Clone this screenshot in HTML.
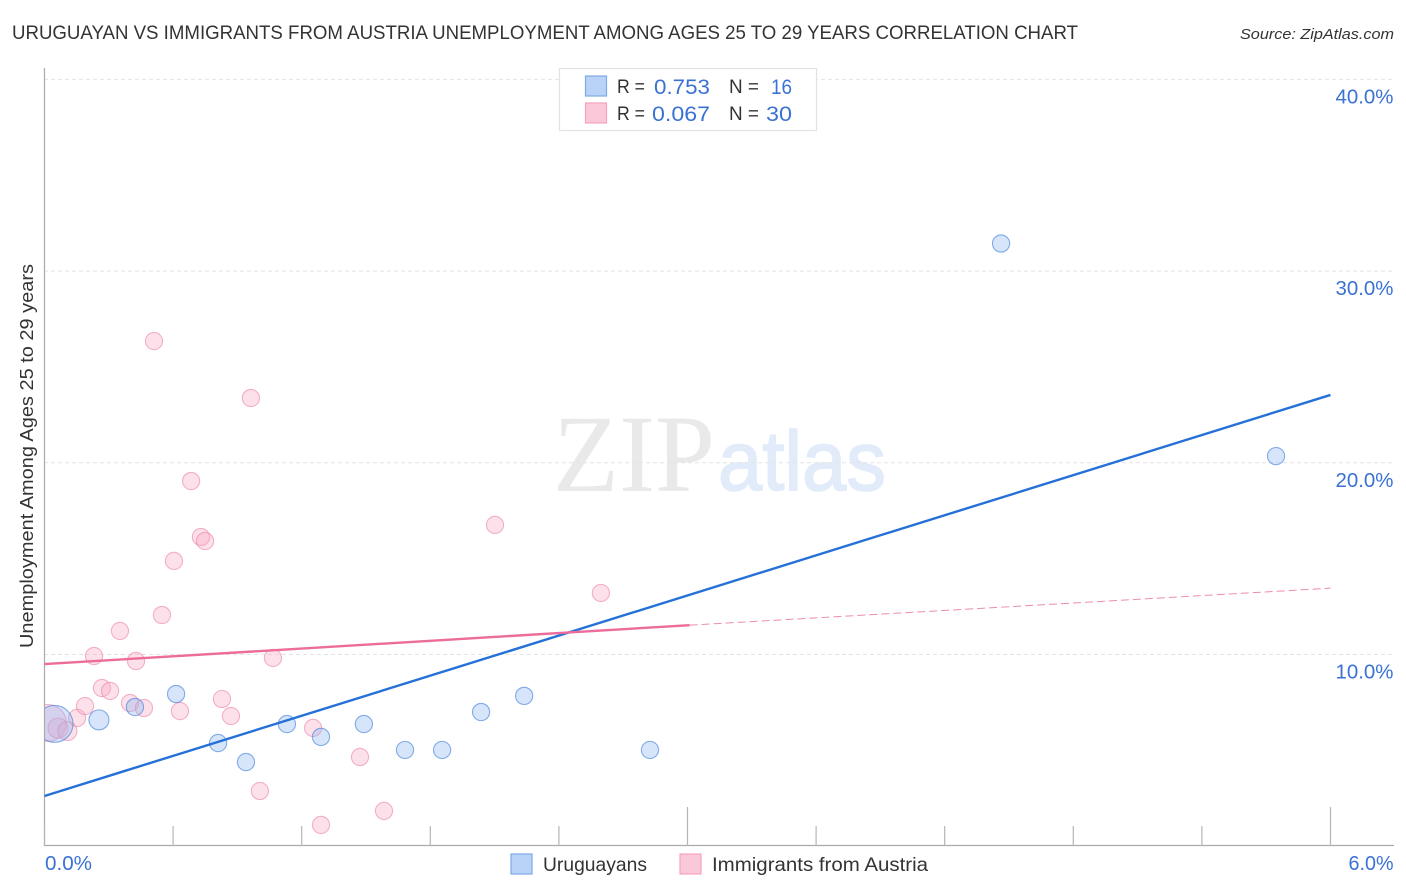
<!DOCTYPE html>
<html lang="en">
<head>
<meta charset="utf-8">
<title>Uruguayan vs Immigrants from Austria Unemployment Correlation Chart</title>
<style>
html,body{margin:0;padding:0;background:#fff;}
svg{display:block;font-family:"Liberation Sans",sans-serif;}
</style>
</head>
<body>
<svg id="chart" xmlns="http://www.w3.org/2000/svg" width="1406" height="892" viewBox="0 0 1406 892">
  <defs>
    <clipPath id="plot-clip"><rect x="45" y="60" width="1350" height="786"></rect></clipPath>
  </defs>
  <text x="12" y="39" font-size="19" fill="#333" textLength="1066" lengthAdjust="spacingAndGlyphs">URUGUAYAN VS IMMIGRANTS FROM AUSTRIA UNEMPLOYMENT AMONG AGES 25 TO 29 YEARS CORRELATION CHART</text>
  <text x="1394" y="39" font-size="15" font-style="italic" fill="#333" text-anchor="end" textLength="154" lengthAdjust="spacingAndGlyphs">Source: ZipAtlas.com</text>

  <g>
    <text x="553" y="491" font-family="'Liberation Serif',serif" font-size="110" fill="#e9e9e9" textLength="162" lengthAdjust="spacingAndGlyphs">ZIP</text>
    <text x="718" y="490" font-size="84" fill="#e2ebf9" stroke="#e2ebf9" stroke-width="1.6" textLength="168" lengthAdjust="spacingAndGlyphs">atlas</text>
  </g>

  <g id="grid"></g>
  <g id="axes"></g>
  <g id="pink-points" clip-path="url(#plot-clip)"></g>
  <g id="blue-points" clip-path="url(#plot-clip)"></g>
  <g id="trends"></g>
  <g id="labels"></g>

  <text transform="translate(33,648) rotate(-90)" font-size="18.5" fill="#333" textLength="384" lengthAdjust="spacingAndGlyphs">Unemployment Among Ages 25 to 29 years</text>

  <g>
    <rect x="559.5" y="68.5" width="257" height="62" fill="#fff" stroke="#e2e2e2" stroke-width="1.2"></rect>
    <rect x="585.5" y="76" width="21" height="20" fill="#b9d3f8" stroke="#7eaae6" stroke-width="1.2"></rect>
    <rect x="585.5" y="103" width="21" height="20" fill="#fbc8da" stroke="#f2a3bd" stroke-width="1.2"></rect>
    <text x="617" y="93" font-size="19" fill="#333" textLength="28" lengthAdjust="spacingAndGlyphs">R =</text>
    <text x="654" y="94" font-size="21" fill="#3a72d4" textLength="56" lengthAdjust="spacingAndGlyphs">0.753</text>
    <text x="729" y="93" font-size="19" fill="#333" textLength="30" lengthAdjust="spacingAndGlyphs">N =</text>
    <text x="771" y="94" font-size="21" fill="#3a72d4" textLength="21" lengthAdjust="spacingAndGlyphs">16</text>
    <text x="617" y="120" font-size="19" fill="#333" textLength="28" lengthAdjust="spacingAndGlyphs">R =</text>
    <text x="652" y="121" font-size="21" fill="#3a72d4" textLength="58" lengthAdjust="spacingAndGlyphs">0.067</text>
    <text x="729" y="120" font-size="19" fill="#333" textLength="30" lengthAdjust="spacingAndGlyphs">N =</text>
    <text x="766" y="121" font-size="21" fill="#3a72d4" textLength="26" lengthAdjust="spacingAndGlyphs">30</text>
  </g>

  <g>
    <rect x="511" y="854" width="21" height="20" fill="#b9d3f8" stroke="#7eaae6" stroke-width="1.2"></rect>
    <text x="543" y="871" font-size="19.5" fill="#333" textLength="104" lengthAdjust="spacingAndGlyphs">Uruguayans</text>
    <rect x="680" y="854" width="21" height="20" fill="#fbc8da" stroke="#f2a3bd" stroke-width="1.2"></rect>
    <text x="712" y="871" font-size="19.5" fill="#333" textLength="216" lengthAdjust="spacingAndGlyphs">Immigrants from Austria</text>
  </g>
</svg>
<script>
// Chart data
const yTickValues = [10, 20, 30, 40];
const yTickLabels = ['10.0%', '20.0%', '30.0%', '40.0%'];
const xTickValues = [0, 0.6, 1.2, 1.8, 2.4, 3.0, 3.6, 4.2, 4.8, 5.4, 6.0];
const xMajorTicks = [3.0, 6.0];
const xEndLabels = ['0.0%', '6.0%'];

const blueX = [0.047, 0.254, 0.422, 0.614, 0.81, 0.94, 1.131, 1.29, 1.49, 1.682, 1.855, 2.037, 2.238, 2.825, 4.463, 5.746];
const blueY = [6.38, 6.59, 7.26, 7.94, 5.38, 4.39, 6.37, 5.70, 6.37, 5.02, 5.02, 7.0, 7.84, 5.02, 31.44, 20.35];
const blueWeight = [4.6, 1.35, 1, 1, 1, 1, 1, 1, 1, 1, 1, 1, 1, 1, 1, 1];

const pinkX = [0.016, 0.063, 0.107, 0.152, 0.189, 0.231, 0.268, 0.306, 0.399, 0.464, 0.511, 0.604, 0.548, 0.352, 0.427, 0.73, 0.749, 0.684, 0.963, 0.828, 0.632, 0.87, 1.066, 1.005, 1.253, 1.472, 1.584, 1.29, 2.102, 2.596];
const pinkY = [6.43, 6.16, 6.01, 6.69, 7.31, 9.92, 8.25, 8.10, 7.47, 7.21, 26.35, 14.88, 12.06, 11.23, 9.66, 16.13, 15.92, 19.05, 23.38, 7.68, 7.05, 6.79, 9.82, 2.88, 6.17, 4.65, 1.84, 1.11, 16.76, 13.21];
const pinkWeight = [4.6, 1.35, 1.22, 1, 1, 1, 1, 1, 1, 1, 1, 1, 1, 1, 1, 1, 1, 1, 1, 1, 1, 1, 1, 1, 1, 1, 1, 1, 1, 1];

const blueTrendX = [0, 6];
const blueTrendY = [2.62, 23.54];
const pinkSolidX = [0, 3.01];
const pinkSolidY = [9.5, 11.53];
const pinkDashX = [3.01, 6];
const pinkDashY = [11.53, 13.46];

// Axis functions
function xScale(v) { return 44.5 + v * 214.33; }
function yScale(v) { return 846.2 - v * 19.17; }
function radius(w) { return 8.6 * Math.sqrt(w); }

const NS = 'http://www.w3.org/2000/svg';
function make(parent, tag, props) {
  const el = document.createElementNS(NS, tag);
  for (const k in props) el.setAttribute(k, props[k]);
  parent.appendChild(el);
  return el;
}

const grid = document.getElementById('grid');
const axes = document.getElementById('axes');
const labels = document.getElementById('labels');
const trends = document.getElementById('trends');
const bluePts = document.getElementById('blue-points');
const pinkPts = document.getElementById('pink-points');

yTickValues.forEach(function (v, i) {
  const line = make(grid, 'line', {x1: 44, x2: 1394, y1: yScale(v), y2: yScale(v), stroke: '#e4e4e4', 'stroke-width': 1, 'stroke-dasharray': '4 3'});
  
  
  const t = make(labels, 'text', {x: 1393.5, y: yScale(v) + 24, 'font-size': 20, fill: '#3a72d4', 'text-anchor': 'end', textLength: 58, lengthAdjust: 'spacingAndGlyphs'});
  
  
  t.textContent = yTickLabels[i];
});

const yAxis = make(axes, 'line', {x1: 44.5, x2: 44.5, y1: 68, y2: 846, stroke: '#aaa', 'stroke-width': 1.2});


const xAxis = make(axes, 'line', {x1: 44, x2: 1394, y1: 845.5, y2: 845.5, stroke: '#aaa', 'stroke-width': 1.2});



xTickValues.forEach(function (v) {
  const top = xMajorTicks.indexOf(v) >= 0 ? 807 : 826;
  const tick = make(axes, 'line', {x1: xScale(v), x2: xScale(v), y1: top, y2: 845.5, stroke: '#b5b5b5', 'stroke-width': 1.2});
  
  
});

const x0Label = make(labels, 'text', {x: 45, y: 870, 'font-size': 20, fill: '#3a72d4', textLength: 47, lengthAdjust: 'spacingAndGlyphs'});


x0Label.textContent = xEndLabels[0];
const x1Label = make(labels, 'text', {x: 1393.5, y: 870, 'font-size': 20, fill: '#3a72d4', 'text-anchor': 'end', textLength: 45, lengthAdjust: 'spacingAndGlyphs'});


x1Label.textContent = xEndLabels[1];

pinkX.forEach(function (v, i) {
  const c = make(pinkPts, 'circle', {cx: xScale(v), cy: yScale(pinkY[i]), r: radius(pinkWeight[i]), fill: 'rgba(248,170,196,0.36)', stroke: 'rgba(236,130,168,0.6)', 'stroke-width': 1.1});
  
  
});

blueX.forEach(function (v, i) {
  const c = make(bluePts, 'circle', {cx: xScale(v), cy: yScale(blueY[i]), r: radius(blueWeight[i]), fill: 'rgba(140,184,240,0.36)', stroke: 'rgba(70,130,220,0.65)', 'stroke-width': 1.1});
  
  
});

const blueLine = make(trends, 'line', {x1: xScale(blueTrendX[0]), y1: yScale(blueTrendY[0]), x2: xScale(blueTrendX[1]), y2: yScale(blueTrendY[1]), stroke: '#2571d8', 'stroke-width': 2.4});


const pinkLine = make(trends, 'line', {x1: xScale(pinkSolidX[0]), y1: yScale(pinkSolidY[0]), x2: xScale(pinkSolidX[1]), y2: yScale(pinkSolidY[1]), stroke: '#ec6c9a', 'stroke-width': 2.4});


const pinkDash = make(trends, 'line', {x1: xScale(pinkDashX[0]), y1: yScale(pinkDashY[0]), x2: xScale(pinkDashX[1]), y2: yScale(pinkDashY[1]), stroke: '#ec8cae', 'stroke-width': 1, 'stroke-dasharray': '8 4'});


</script>
</body>
</html>
